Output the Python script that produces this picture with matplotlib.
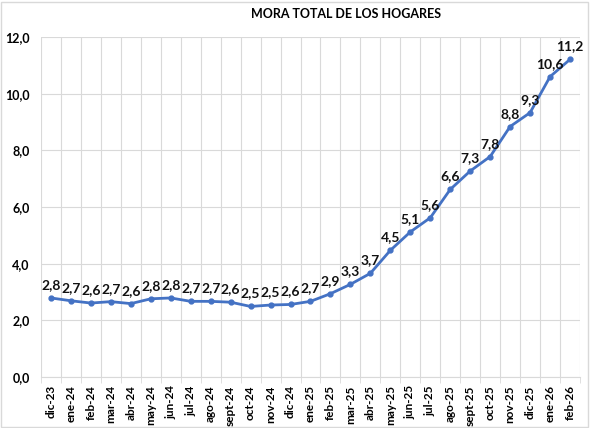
import matplotlib
matplotlib.use("Agg")
import matplotlib.pyplot as plt
from matplotlib.patches import Rectangle
import numpy as np

months = ["dic-23", "ene-24", "feb-24", "mar-24", "abr-24", "may-24", "jun-24", "jul-24",
          "ago-24", "sept-24", "oct-24", "nov-24", "dic-24", "ene-25", "feb-25", "mar-25",
          "abr-25", "may-25", "jun-25", "jul-25", "ago-25", "sept-25", "oct-25", "nov-25",
          "dic-25", "ene-26", "feb-26"]
mora = [2.79, 2.69, 2.61, 2.66, 2.59, 2.76, 2.79, 2.67, 2.67, 2.64, 2.49, 2.54, 2.56,
        2.67, 2.94, 3.27, 3.66, 4.47, 5.12, 5.62, 6.62, 7.27, 7.78, 8.84, 9.33, 10.6, 11.21]
yticks = [0, 2, 4, 6, 8, 10, 12]

plt.rcParams["font.family"] = ["Lato", "DejaVu Sans"]
fig = plt.figure(figsize=(5.9, 4.28), dpi=100)
ax = fig.add_axes([41 / 590, 1 - 377 / 428, 539 / 590, 340 / 428])

x = np.arange(len(months))
ax.plot(x, mora, color="#4472C4", lw=2, marker="o", ms=3.5, zorder=3)
for xi, v in zip(x, mora):
    ax.annotate(f"{v:.1f}".replace(".", ","), (xi, v), xytext=(0, 5), textcoords="offset points",
                ha="center", va="bottom", fontsize=10, fontweight="bold", color="#111111")

ax.set_xlim(-0.5, len(months) - 0.5)
ax.set_ylim(0, 12)
ax.set_yticks(yticks)
ax.set_yticklabels([f"{t:.1f}".replace(".", ",") for t in yticks], fontsize=9, fontweight="bold")
ax.set_xticks(x)
ax.set_xticklabels(months, rotation=90, fontsize=8.5, fontweight="bold")
ax.set_xticks(np.arange(-0.5, len(months)), minor=True)
ax.tick_params(axis="x", which="major", length=0, pad=6)
ax.tick_params(axis="x", which="minor", length=4, color="#d9d9d9")
ax.tick_params(axis="y", length=0, pad=8)
ax.grid(axis="y", color="#d9d9d9", lw=0.8)
ax.grid(axis="x", which="minor", color="#d9d9d9", lw=0.8)
for s in ["top", "right", "left"]:
    ax.spines[s].set_visible(False)
ax.spines["bottom"].set_color("#d9d9d9")
ax.set_axisbelow(True)

fig.text(346 / 590, 1 - 14 / 428, "MORA TOTAL DE LOS HOGARES", ha="center", va="center",
         fontsize=9, fontweight="bold")
fig.patches.append(Rectangle((0.002, 0.002), 0.994, 0.994, transform=fig.transFigure,
                             fill=False, edgecolor="#d9d9d9", lw=1))
fig.savefig("out.png")
